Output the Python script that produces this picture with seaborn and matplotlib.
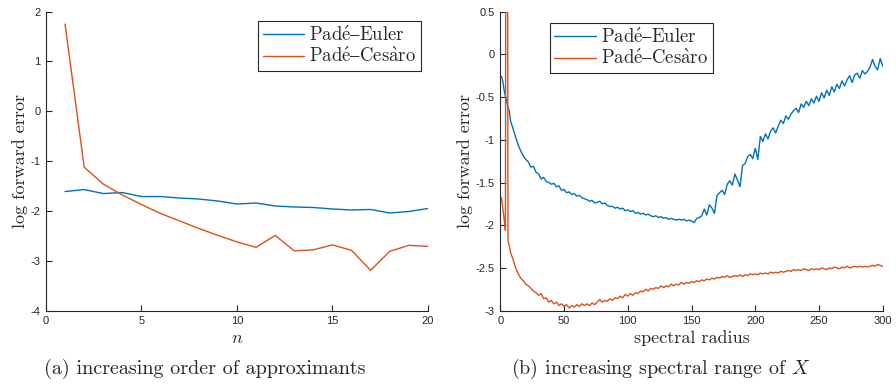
import numpy as np
import pandas as pd
import matplotlib
matplotlib.use("Agg")
import matplotlib.pyplot as plt
import seaborn as sns

# ---------------- data: panel (a) ----------------
n_order = list(range(1, 21))
euler_a = [-1.61, -1.57, -1.65, -1.63, -1.71, -1.71, -1.74, -1.76, -1.80, -1.86,
           -1.84, -1.90, -1.92, -1.93, -1.96, -1.98, -1.97, -2.04, -2.01, -1.95]
cesaro_a = [1.75, -1.12, -1.46, -1.68, -1.87, -2.05, -2.20, -2.35, -2.49, -2.62,
            -2.73, -2.49, -2.80, -2.78, -2.68, -2.79, -3.19, -2.81, -2.69, -2.71]

# ---------------- data: panel (b) ----------------
radius = [1, 2, 3, 4, 5, 6, 7] + list(range(8, 301, 2))
euler_b = [
    -0.26, -0.32, -0.42, -0.49, -0.55, -0.62, -0.66,
    -0.78, -0.87, -0.97, -1.06, -1.13, -1.19, -1.23, -1.26, -1.32, -1.31,
    -1.38, -1.40, -1.46, -1.44, -1.49, -1.50, -1.52, -1.51, -1.55, -1.54,
    -1.59, -1.58, -1.62, -1.61, -1.64, -1.63, -1.66, -1.65, -1.68, -1.69,
    -1.70, -1.72, -1.71, -1.74, -1.73, -1.72, -1.75, -1.74, -1.77, -1.78,
    -1.78, -1.80, -1.79, -1.81, -1.80, -1.83, -1.82, -1.84, -1.83, -1.86,
    -1.85, -1.87, -1.86, -1.88, -1.87, -1.89, -1.90, -1.89, -1.91, -1.90,
    -1.92, -1.91, -1.93, -1.92, -1.93, -1.94, -1.93, -1.94, -1.93, -1.95,
    -1.94, -1.95, -1.97, -1.92, -1.91, -1.89, -1.81, -1.88, -1.76, -1.80,
    -1.86, -1.65, -1.62, -1.59, -1.64, -1.52, -1.48, -1.53, -1.40, -1.47,
    -1.55, -1.30, -1.28, -1.20, -1.17, -1.22, -1.10, -1.23, -0.96, -1.02,
    -0.93, -0.99, -0.90, -0.86, -0.92, -0.84, -0.77, -0.81, -0.72, -0.76,
    -0.70, -0.66, -0.63, -0.68, -0.58, -0.62, -0.55, -0.60, -0.52, -0.57,
    -0.49, -0.55, -0.45, -0.51, -0.42, -0.48, -0.38, -0.44, -0.35, -0.40,
    -0.31, -0.37, -0.30, -0.25, -0.33, -0.24, -0.22, -0.28, -0.19, -0.23,
    -0.20, -0.15, -0.06, -0.14, -0.18, -0.05, -0.14,
]
cesaro_b = [
    -1.68, -1.80, -1.93, -2.06, 10.0, -2.18, -2.24,
    -2.32, -2.40, -2.50, -2.57, -2.62, -2.65, -2.69, -2.71, -2.74, -2.77,
    -2.79, -2.82, -2.80, -2.86, -2.85, -2.90, -2.88, -2.92, -2.90, -2.94,
    -2.92, -2.95, -2.93, -2.97, -2.94, -2.96, -2.93, -2.95, -2.92, -2.94,
    -2.92, -2.94, -2.91, -2.93, -2.90, -2.87, -2.90, -2.88, -2.89, -2.86,
    -2.88, -2.85, -2.86, -2.83, -2.85, -2.81, -2.83, -2.80, -2.82, -2.79,
    -2.80, -2.77, -2.78, -2.75, -2.77, -2.74, -2.75, -2.73, -2.74, -2.71,
    -2.73, -2.71, -2.72, -2.69, -2.71, -2.69, -2.70, -2.67, -2.69, -2.67,
    -2.68, -2.66, -2.67, -2.65, -2.66, -2.64, -2.65, -2.63, -2.64, -2.62,
    -2.63, -2.61, -2.62, -2.60, -2.61, -2.59, -2.61, -2.60, -2.59, -2.60,
    -2.58, -2.60, -2.58, -2.59, -2.57, -2.58, -2.57, -2.58, -2.56, -2.57,
    -2.56, -2.57, -2.55, -2.56, -2.55, -2.56, -2.54, -2.55, -2.54, -2.53,
    -2.54, -2.52, -2.53, -2.52, -2.53, -2.51, -2.52, -2.53, -2.51, -2.52,
    -2.51, -2.52, -2.50, -2.51, -2.52, -2.50, -2.51, -2.49, -2.50, -2.51,
    -2.49, -2.50, -2.48, -2.50, -2.49, -2.48, -2.49, -2.48, -2.49, -2.48,
    -2.49, -2.48, -2.47, -2.48, -2.46, -2.47, -2.48,
]

series_names = ["Padé–Euler", "Padé–Cesàro"]
# same names typeset in Computer Modern via mathtext accents
series_tex = {"Padé–Euler": r"$\mathrm{Pad\acute{e}–Euler}$",
              "Padé–Cesàro": r"$\mathrm{Pad\acute{e}–Ces\grave{a}ro}$"}
palette = {"Padé–Euler": "#0072BD", "Padé–Cesàro": "#D95319"}

xt_a = [0, 5, 10, 15, 20]
yt_a = [-4, -3, -2, -1, 0, 1, 2]
xt_b = [0, 50, 100, 150, 200, 250, 300]
yt_b = [-3, -2.5, -2, -1.5, -1, -0.5, 0, 0.5]

# ---------------- styling ----------------
sns.set_style("ticks")
serif = ["cmr10", "DejaVu Serif"]
plt.rcParams["font.family"] = ["Liberation Sans", "DejaVu Sans"]
plt.rcParams["mathtext.fontset"] = "cm"
plt.rcParams["axes.unicode_minus"] = False
plt.rcParams["xtick.direction"] = "in"
plt.rcParams["ytick.direction"] = "in"

df_a = pd.DataFrame({
    "x": n_order * 2,
    "y": euler_a + cesaro_a,
    "s": [series_names[0]] * len(n_order) + [series_names[1]] * len(n_order),
})
df_b = pd.DataFrame({
    "x": radius * 2,
    "y": euler_b + cesaro_b,
    "s": [series_names[0]] * len(radius) + [series_names[1]] * len(radius),
})

fig = plt.figure(figsize=(8.96, 3.91), dpi=100)
ax1 = fig.add_axes([0.0513, 0.2055, 0.4263, 0.7647])
ax2 = fig.add_axes([0.5584, 0.2055, 0.4268, 0.7647])

for ax, df, xt, yt, xl, yl in [
    (ax1, df_a, xt_a, yt_a, (0, 20), (-4, 2)),
    (ax2, df_b, xt_b, yt_b, (0, 300), (-3, 0.5)),
]:
    sns.lineplot(data=df, x="x", y="y", hue="s", palette=palette, ax=ax,
                 linewidth=1.0, sort=False, estimator=None)
    ax.set_xlim(*xl)
    ax.set_ylim(*yl)
    ax.set_xticks(xt)
    ax.set_yticks(yt)
    ax.set_xticklabels([f"{v:g}" for v in xt])
    ax.set_yticklabels([f"{v:g}" for v in yt])
    for s in ["top", "right"]:
        ax.spines[s].set_visible(False)
    for s in ["left", "bottom"]:
        ax.spines[s].set_color("#262626")
        ax.spines[s].set_linewidth(0.8)
    ax.tick_params(axis="both", direction="in", length=4, width=0.8,
                   color="#262626", labelsize=8, labelcolor="#262626", pad=4)
    ax.set_ylabel("log forward error", family=serif, fontsize=13, labelpad=2)

ax1.set_xlabel("$n$", fontsize=13, labelpad=3)
ax2.set_xlabel("spectral radius", family=serif, fontsize=13, labelpad=3)

leg_kw = dict(frameon=True, fancybox=False, framealpha=1, edgecolor="#262626",
              prop={"family": serif, "size": 13.5}, handlelength=2.2,
              handletextpad=0.3, borderpad=0.25, labelspacing=0.12, borderaxespad=0)
for ax, anchor in [(ax1, (0.982, 0.969)), (ax2, (0.556, 0.962))]:
    h, l = ax.get_legend_handles_labels()
    lg = ax.legend(h, [series_tex[t] for t in l], loc="upper right",
                   bbox_to_anchor=anchor, **leg_kw)
    lg.get_frame().set_linewidth(0.8)

fig.text(0.229, 0.056, "(a) increasing order of approximants", family=serif,
         fontsize=14.5, ha="center", va="center")
fig.text(0.737, 0.056, "(b) increasing spectral range of $X$", family=serif,
         fontsize=14.5, ha="center", va="center")

fig.savefig("out.png", dpi=100)
